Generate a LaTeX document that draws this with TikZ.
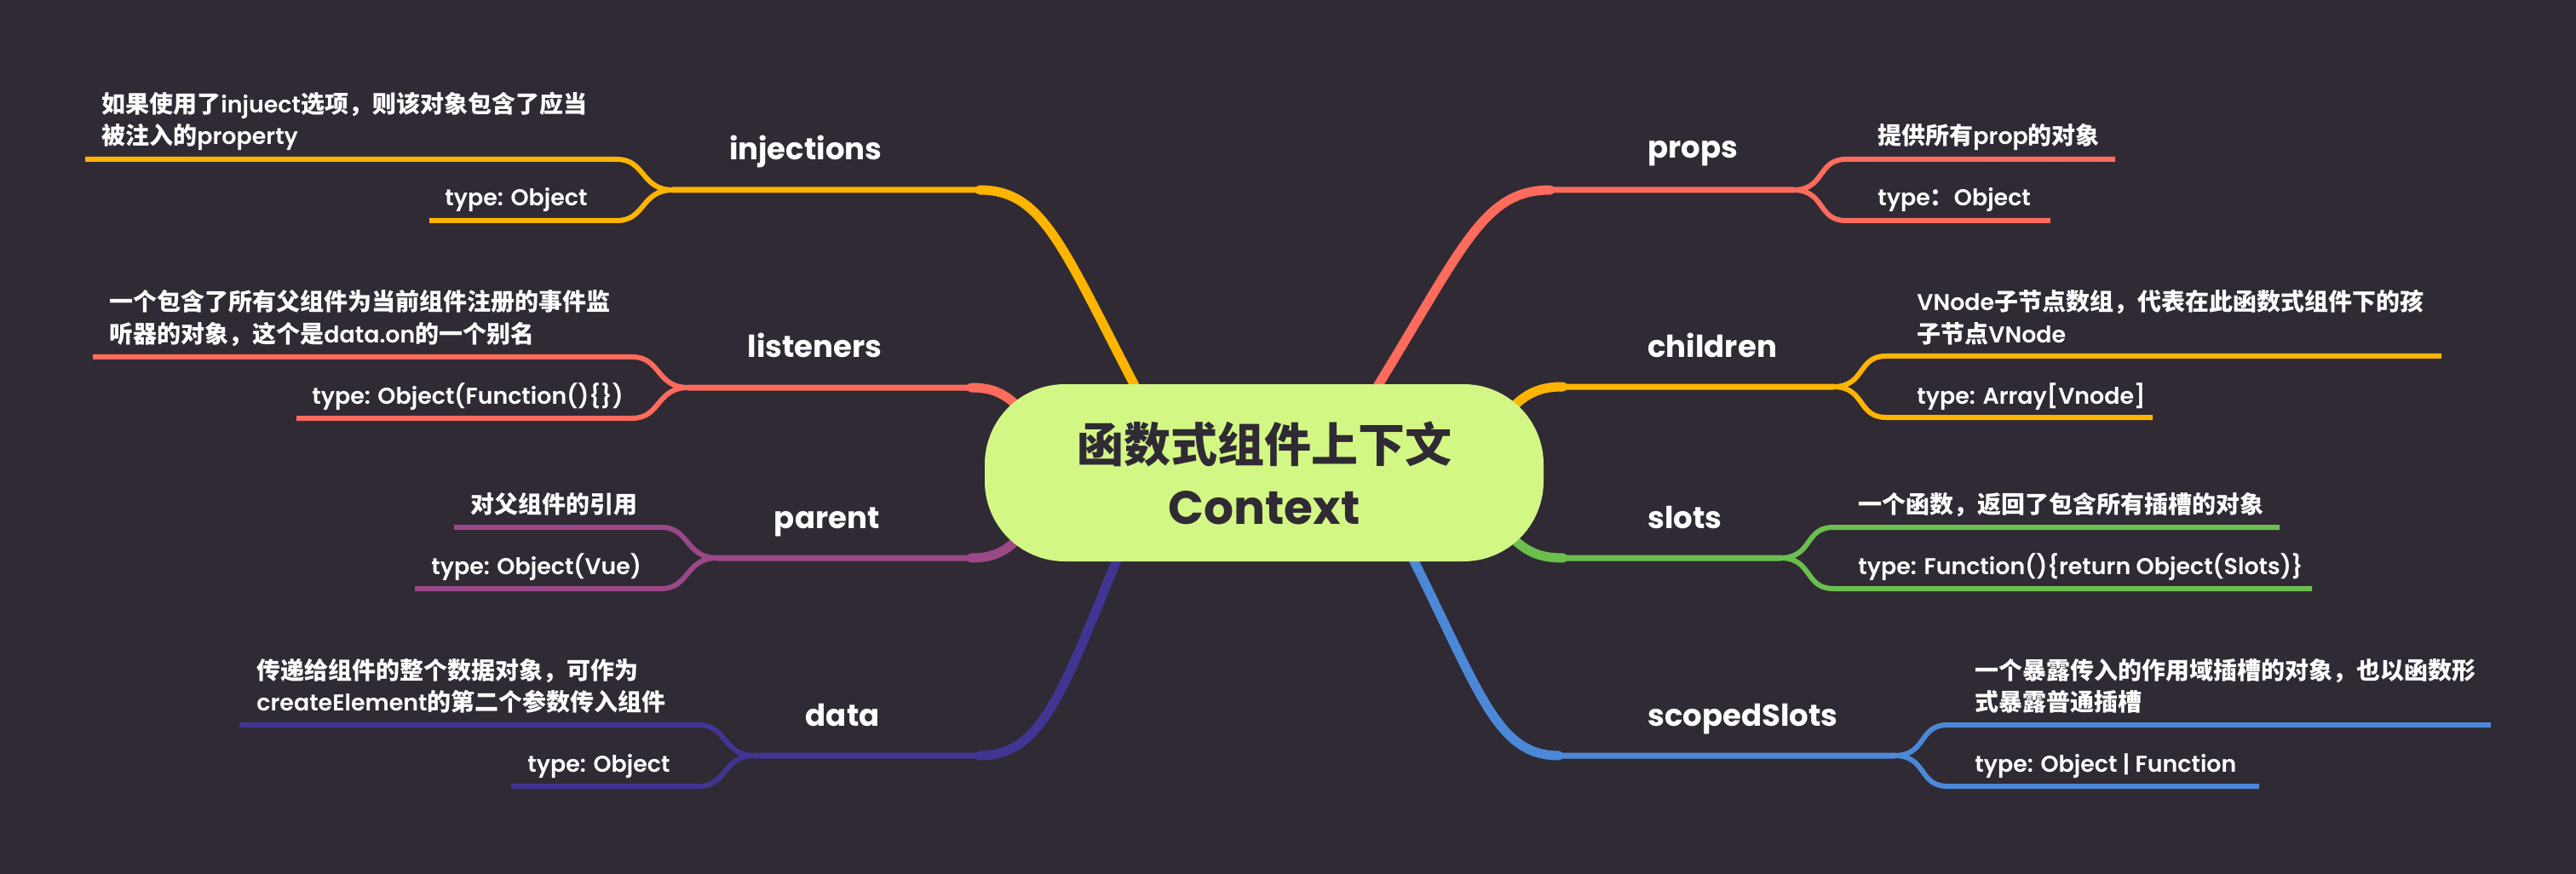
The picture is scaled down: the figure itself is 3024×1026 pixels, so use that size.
\documentclass[tikz,border=0pt]{standalone}
\usepackage{fontspec}
\setmainfont{Poppins}[Scale=0.96,UprightFont={Poppins SemiBold},BoldFont={Poppins Bold}]
\newfontfamily\popbold{Poppins Bold}
\newfontfamily\zhf{Noto Sans CJK SC}
\newcommand\zh[1]{{\zhf\bfseries#1}}
\definecolor{bgc}{HTML}{2F2A34}
\definecolor{cY}{HTML}{FFB400}
\definecolor{cR}{HTML}{FF6B5C}
\definecolor{cP}{HTML}{9A4888}
\definecolor{cI}{HTML}{413594}
\definecolor{cG}{HTML}{6BBF4E}
\definecolor{cB}{HTML}{4B89D8}
\definecolor{cC}{HTML}{D3F785}
\newcommand\lfork[6]{%
  \coordinate (#1F) at (#3,#4);
  \coordinate (#1Ua) at (#3-66,#4-36);
  \coordinate (#1U) at (#5,#4-36);
  \coordinate (#1La) at (#3-66,#4+36);
  \coordinate (#1L) at (#6,#4+36);
  \draw[subln,#2] (#1F) .. controls +(-38,0) and +(34,0) .. (#1Ua) -- (#1U);
  \draw[subln,#2] (#1F) .. controls +(-38,0) and +(34,0) .. (#1La) -- (#1L);
}
\newcommand\rfork[6]{%
  \coordinate (#1F) at (#3,#4);
  \coordinate (#1Ua) at (#3+62,#4-36);
  \coordinate (#1U) at (#5,#4-36);
  \coordinate (#1La) at (#3+62,#4+36);
  \coordinate (#1L) at (#6,#4+36);
  \draw[subln,#2] (#1F) .. controls +(38,0) and +(-34,0) .. (#1Ua) -- (#1U);
  \draw[subln,#2] (#1F) .. controls +(38,0) and +(-34,0) .. (#1La) -- (#1L);
}
\begin{document}
\begin{tikzpicture}[x=0.5pt,y=-0.5pt,
  mainln/.style={line width=3.5pt,line cap=round,line join=round},
  thickln/.style={line width=5.5pt,line cap=round},
  subln/.style={line width=3pt},
  lab/.style={font=\fontsize{18.5}{22}\selectfont\bfseries,text=white,inner sep=0pt},
  txt/.style={font=\fontsize{14}{18.5}\selectfont,text=white,inner sep=0pt,align=left},
  hub/.style={fill=cC,rounded corners=47pt,minimum width=328pt,minimum height=104pt,inner sep=0pt,align=center,text=bgc,font=\fontsize{27.5}{36.5}\selectfont}
]
\path[use as bounding box,fill=bgc] (0,0) rectangle (3024,1026);

% forks
\lfork{inj}{cY}{790}{223}{100}{504}
\lfork{lis}{cR}{808}{455}{109}{348}
\lfork{par}{cP}{842}{655}{533}{487}
\lfork{data}{cI}{886}{887}{281}{600}
\rfork{prop}{cR}{2105}{223}{2483}{2407}
\rfork{ch}{cY}{2152}{454}{2866}{2527}
\rfork{sl}{cG}{2090}{655}{2676}{2714}
\rfork{sc}{cB}{2224}{887}{2924}{2652}

% main branches
\coordinate (injS) at (1357,500); \coordinate (injH) at (1150,223);
\draw[thickln,cY] (injS) .. controls (1250,300) and (1230,223) .. (injH);
\draw[mainln,cY] (injS) .. controls (1250,300) and (1230,223) .. (injH) -- (injF);

\coordinate (lisS) at (1225,515); \coordinate (lisH) at (1140,455);
\draw[thickln,cR] (lisS) .. controls (1192,468) and (1175,455) .. (lisH);
\draw[mainln,cR] (lisS) .. controls (1192,468) and (1175,455) .. (lisH) -- (lisF);

\coordinate (parS) at (1225,595); \coordinate (parH) at (1140,655);
\draw[thickln,cP] (parS) .. controls (1192,642) and (1175,655) .. (parH);
\draw[mainln,cP] (parS) .. controls (1192,642) and (1175,655) .. (parH) -- (parF);

\coordinate (dataS) at (1335,600); \coordinate (dataH) at (1150,887);
\draw[thickln,cI] (dataS) .. controls (1250,800) and (1230,887) .. (dataH);
\draw[mainln,cI] (dataS) .. controls (1250,800) and (1230,887) .. (dataH) -- (dataF);

\coordinate (propS) at (1588,500); \coordinate (propH) at (1820,223);
\draw[thickln,cR] (propS) .. controls (1715,300) and (1735,223) .. (propH);
\draw[mainln,cR] (propS) .. controls (1715,300) and (1735,223) .. (propH) -- (propF);

\coordinate (chS) at (1745,515); \coordinate (chH) at (1835,454);
\draw[thickln,cY] (chS) .. controls (1780,468) and (1797,454) .. (chH);
\draw[mainln,cY] (chS) .. controls (1780,468) and (1797,454) .. (chH) -- (chF);

\coordinate (slS) at (1745,595); \coordinate (slH) at (1835,655);
\draw[thickln,cG] (slS) .. controls (1780,642) and (1797,655) .. (slH);
\draw[mainln,cG] (slS) .. controls (1780,642) and (1797,655) .. (slH) -- (slF);

\coordinate (scS) at (1630,600); \coordinate (scH) at (1830,887);
\draw[thickln,cB] (scS) .. controls (1735,800) and (1750,887) .. (scH);
\draw[mainln,cB] (scS) .. controls (1735,800) and (1750,887) .. (scH) -- (scF);

% central node
\node[hub] (ctx) at (1484,555) {\zh{函数式组件上下文}\\{\popbold Context}};

% labels
\node[lab,anchor=base east] (injN) at (1036,188) {injections};
\node[lab,anchor=base east] (lisN) at (1036,420) {listeners};
\node[lab,anchor=base east] (parN) at (1033,620) {parent};
\node[lab,anchor=base east] (dataN) at (1033,852) {data};
\node[lab,anchor=base west] (propN) at (1934,186) {props};
\node[lab,anchor=base west] (chN) at (1934,420) {children};
\node[lab,anchor=base west] (slN) at (1934,620) {slots};
\node[lab,anchor=base west] (scN) at (1934,852) {scopedSlots};

% texts left
\node[txt,anchor=base west] (injT1) at (119,170) {\zh{如果使用了}injuect\zh{选项，则该对象包含了应当}\\\zh{被注入的}property};
\node[txt,anchor=base west] (injT2) at (522,242) {type: Object};
\node[txt,anchor=base west] (lisT1) at (128,402) {\zh{一个包含了所有父组件为当前组件注册的事件监}\\\zh{听器的对象，这个是}data.on\zh{的一个别名}};
\node[txt,anchor=base west] (lisT2) at (366,474) {type: Object(Function()\{\})};
\node[txt,anchor=base west] (parT1) at (552,602) {\zh{对父组件的引用}};
\node[txt,anchor=base west] (parT2) at (506,674) {type: Object(Vue)};
\node[txt,anchor=base west] (dataT1) at (301,834) {\zh{传递给组件的整个数据对象，可作为}\\createElement\zh{的第二个参数传入组件}};
\node[txt,anchor=base west] (dataT2) at (619,906) {type: Object};

% texts right
\node[txt,anchor=base west] (propT1) at (2204,170) {\zh{提供所有}prop\zh{的对象}};
\node[txt,anchor=base west] (propT2) at (2204,242) {type\zh{：}Object};
\node[txt,anchor=base west] (chT1) at (2250,402) {VNode\zh{子节点数组，代表在此函数式组件下的孩}\\\zh{子节点}VNode};
\node[txt,anchor=base west] (chT2) at (2250,474) {type: Array[Vnode]};
\node[txt,anchor=base west] (slT1) at (2181,602) {\zh{一个函数，返回了包含所有插槽的对象}};
\node[txt,anchor=base west] (slT2) at (2181,674) {type: Function()\{return Object(Slots)\}};
\node[txt,anchor=base west] (scT1) at (2318,834) {\zh{一个暴露传入的作用域插槽的对象，也以函数形}\\\zh{式暴露普通插槽}};
\node[txt,anchor=base west] (scT2) at (2318,906) {type: Object | Function};
\end{tikzpicture}
\end{document}
